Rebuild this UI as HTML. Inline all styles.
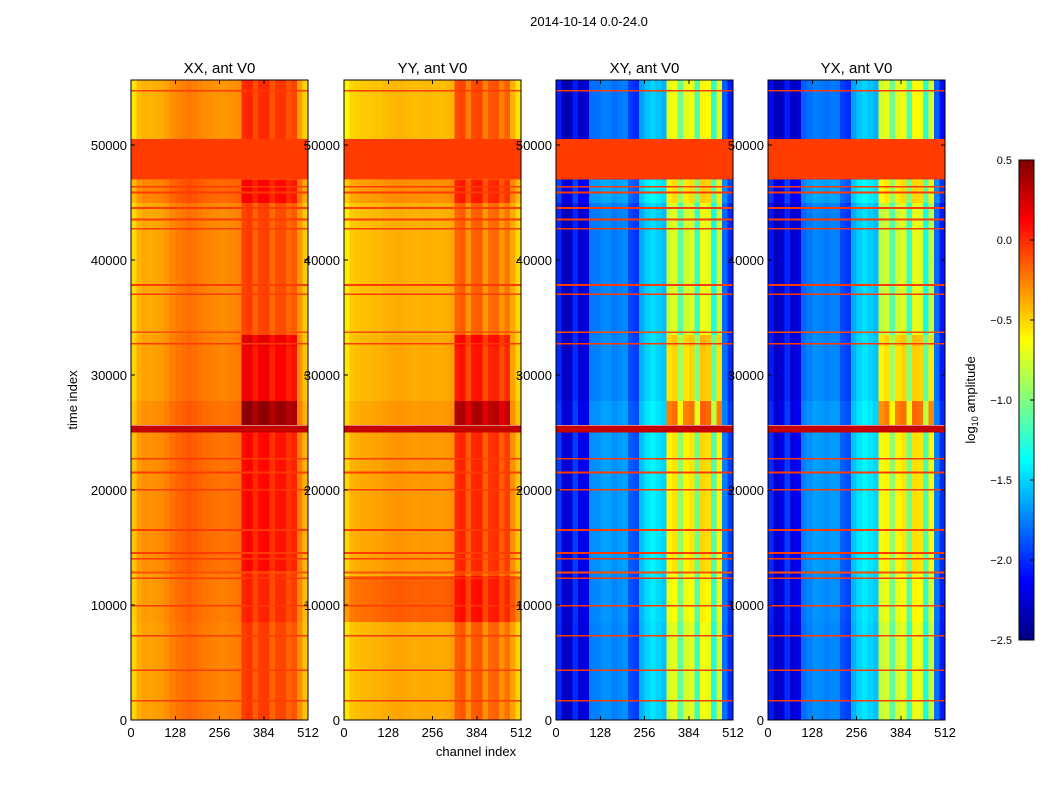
<!DOCTYPE html>
<html><head><meta charset="utf-8"><style>
body{margin:0;background:#fff;font-family:"Liberation Sans",sans-serif;}
svg text{font-family:"Liberation Sans",sans-serif;fill:#000;}
</style></head><body>
<svg id="fig" width="1050" height="800" viewBox="0 0 1050 800" shape-rendering="crispEdges">
<rect width="1050" height="800" fill="#fff"/>
<text x="589" y="26" font-size="13" text-anchor="middle">2014-10-14 0.0-24.0</text>
<text x="476" y="756" font-size="13" text-anchor="middle">channel index</text>
<text transform="translate(77,400) rotate(-90)" font-size="13" text-anchor="middle">time index</text>
<text transform="translate(975,400) rotate(-90)" font-size="13" text-anchor="middle">log<tspan font-size="9" dy="3">10</tspan><tspan dy="-3"> amplitude</tspan></text>
<g id="panels"></g>
<g id="cbar"></g>
</svg>
<script>
// ---- data ----
const panelTitles = ["XX, ant V0","YY, ant V0","XY, ant V0","YX, ant V0"];
const xTicks = [0,128,256,384,512];
const yTicks = [0,10000,20000,30000,40000,50000];
const cbarTicks = [0.5,0.0,-0.5,-1.0,-1.5,-2.0,-2.5];
const cbarLabels = ["0.5","0.0","\u22120.5","\u22121.0","\u22121.5","\u22122.0","\u22122.5"];
// column profiles, 32 bins of 16 channels, log10 amplitude
const profXX = [-0.5,-0.38,-0.35,-0.36,-0.34,-0.33,-0.3,-0.25,-0.22,-0.2,-0.18,-0.2,-0.22,-0.24,-0.25,-0.26,-0.27,-0.26,-0.25,-0.24,-0.05,-0.02,-0.15,-0.05,-0.04,-0.17,-0.08,-0.07,-0.17,-0.12,-0.3,-0.45];
const profYY = [-0.55,-0.45,-0.43,-0.42,-0.42,-0.4,-0.4,-0.38,-0.37,-0.36,-0.36,-0.37,-0.38,-0.38,-0.37,-0.37,-0.38,-0.38,-0.37,-0.35,-0.15,-0.12,-0.3,-0.14,-0.12,-0.3,-0.18,-0.16,-0.3,-0.2,-0.35,-0.5];
const profXY = [-2.0,-2.3,-2.3,-2.0,-2.25,-2.2,-1.75,-1.75,-1.7,-1.7,-1.75,-1.72,-1.7,-1.9,-1.95,-1.6,-1.5,-1.45,-1.5,-1.55,-0.75,-0.7,-1.1,-0.75,-0.7,-1.2,-0.65,-0.68,-1.3,-0.75,-1.8,-2.0];
const profYX = [-2.05,-2.3,-2.25,-2.0,-2.25,-2.2,-1.8,-1.75,-1.7,-1.72,-1.75,-1.72,-1.72,-1.9,-1.95,-1.6,-1.5,-1.45,-1.5,-1.55,-0.8,-0.75,-1.1,-0.75,-0.7,-1.2,-0.68,-0.7,-1.3,-0.77,-1.8,-2.05];
// time segments: start, end, offset all channels, extra offset for channels 320-480
const segStart = [0,8500,13000,25700,27800,32500,33500,45000,47000,50500];
const segEnd   = [8500,13000,25000,27800,32500,33500,45000,47000,50500,55650];
const segOff   = [0,0.02,0.05,0.05,0,0,-0.02,0.08,0,-0.05];
const segStripe= [0,0.05,0.1,0.45,0.2,0.25,0,0.1,0,0.1];
// YY-only block offset
const yyBlockStart = 8500, yyBlockEnd = 12500, yyBlockOff = 0.22;
// flat bands (all panels): start, end, value
const bandStart = [47000,25000,1600,4250,7250,9850,12250,12750,13950,14450,16450,19950,21450,22650,32650,33650,36950,37750,42650,43450,44450,45800,46300,54650];
const bandEnd   = [50500,25600,1750,4400,7400,10000,12400,12900,14100,14600,16600,20100,21600,22800,32800,33800,37100,37900,42800,43600,44600,45950,46450,54800];
const bandVal   = [-0.05,0.3,-0.05,-0.05,-0.05,-0.05,-0.05,-0.1,-0.05,-0.05,-0.05,-0.05,-0.05,-0.05,-0.05,-0.1,-0.05,-0.05,-0.05,-0.05,-0.05,-0.05,-0.05,-0.05];

const profiles = [profXX,profYY,profXY,profYX];
const panelX = [131,344,556,768];
const PW=177, PTOP=80, PBOT=720, TMAX=55650, CMAX=512, VMIN=-2.5, VMAX=0.5;
const NS="http://www.w3.org/2000/svg";
function jet(v){let x=(v-VMIN)/(VMAX-VMIN);x=Math.max(0,Math.min(1,x));
 const c=t=>Math.round(255*Math.max(0,Math.min(1,1.5-Math.abs(t))));
 return `rgb(${c(4*x-3)},${c(4*x-2)},${c(4*x-1)})`;}
function yScale(t){return PBOT-(t/TMAX)*(PBOT-PTOP);}
function mk(tag,attrs,parent){const e=document.createElementNS(NS,tag);for(const k in attrs)e.setAttribute(k,attrs[k]);parent.appendChild(e);return e;}
const root=document.getElementById('panels');
panelTitles.forEach((title,p)=>{
 const x0=panelX[p];const xS=c=>x0+c/CMAX*PW;
 const g=mk('g',{},root);
 
 
 const hm=mk('g',{},g);
 
 
 const prof=profiles[p];
 for(let s=0;s<segStart.length;s++){
  for(let c=0;c<prof.length;c++){
   const ch0=c*16, ch1=ch0+16;
   let v=prof[c]+segOff[s]+((ch0>=320&&ch0<480)?segStripe[s]:0);
   const r=mk('rect',{x:xS(ch0),y:yScale(segEnd[s]),width:xS(ch1)-xS(ch0)+0.5,height:yScale(segStart[s])-yScale(segEnd[s])+0.5,fill:jet(v)},hm);
   
   
  }
 }
 if(p===1){
  for(let c=0;c<prof.length;c++){
   const ch0=c*16;
   const r=mk('rect',{x:xS(ch0),y:yScale(yyBlockEnd),width:xS(16)-xS(0)+0.5,height:yScale(yyBlockStart)-yScale(yyBlockEnd),fill:jet(prof[c]+yyBlockOff)},hm);
   
   
  }
 }
 for(let b=0;b<bandStart.length;b++){
  const r=mk('rect',{x:x0,y:yScale(bandEnd[b]),width:PW,height:Math.max(1.5,yScale(bandStart[b])-yScale(bandEnd[b])),fill:jet(bandVal[b])},hm);
  
  
 }
 const fr=mk('rect',{x:x0,y:PTOP,width:PW,height:PBOT-PTOP,fill:'none',stroke:'#000','stroke-width':1},g);
 
 
 const t=mk('text',{x:x0+PW/2,y:73,'font-size':15,'text-anchor':'middle'},g);t.textContent=title;
 
 
 xTicks.forEach(v=>{const xx=xS(v);
  mk('line',{x1:xx,x2:xx,y1:PBOT,y2:PBOT-4,stroke:'#000'},g);
  mk('line',{x1:xx,x2:xx,y1:PTOP,y2:PTOP+4,stroke:'#000'},g);
  const l=mk('text',{x:xx,y:737,'font-size':13,'text-anchor':'middle'},g);l.textContent=v;
  
  });
 yTicks.forEach(v=>{const yy=yScale(v);
  mk('line',{x1:x0,x2:x0+4,y1:yy,y2:yy,stroke:'#000'},g);
  mk('line',{x1:x0+PW,x2:x0+PW-4,y1:yy,y2:yy,stroke:'#000'},g);
  const l=mk('text',{x:x0-4,y:yy+5,'font-size':13,'text-anchor':'end'},g);l.textContent=v;
  
  });
});
// colorbar
const cb=document.getElementById('cbar');
const CB0=160,CB1=640,CBX=1019,CBW=15;
const cy=v=>CB1-(v-VMIN)/(VMAX-VMIN)*(CB1-CB0);
for(let i=0;i<120;i++){const v0=VMIN+i*(VMAX-VMIN)/120,v1=VMIN+(i+1)*(VMAX-VMIN)/120;
 mk('rect',{x:CBX,y:cy(v1),width:CBW,height:cy(v0)-cy(v1)+0.5,fill:jet((v0+v1)/2)},cb);}
mk('rect',{x:CBX,y:CB0,width:CBW,height:CB1-CB0,fill:'none',stroke:'#000'},cb);
cbarTicks.forEach((v,i)=>{const yy=cy(v);
 mk('line',{x1:CBX+CBW,x2:CBX+CBW-4,y1:yy,y2:yy,stroke:'#000'},cb);
 const l=mk('text',{x:1012,y:yy+4,'font-size':11,'text-anchor':'end'},cb);l.textContent=cbarLabels[i];
 
 });
</script>
</body></html>
